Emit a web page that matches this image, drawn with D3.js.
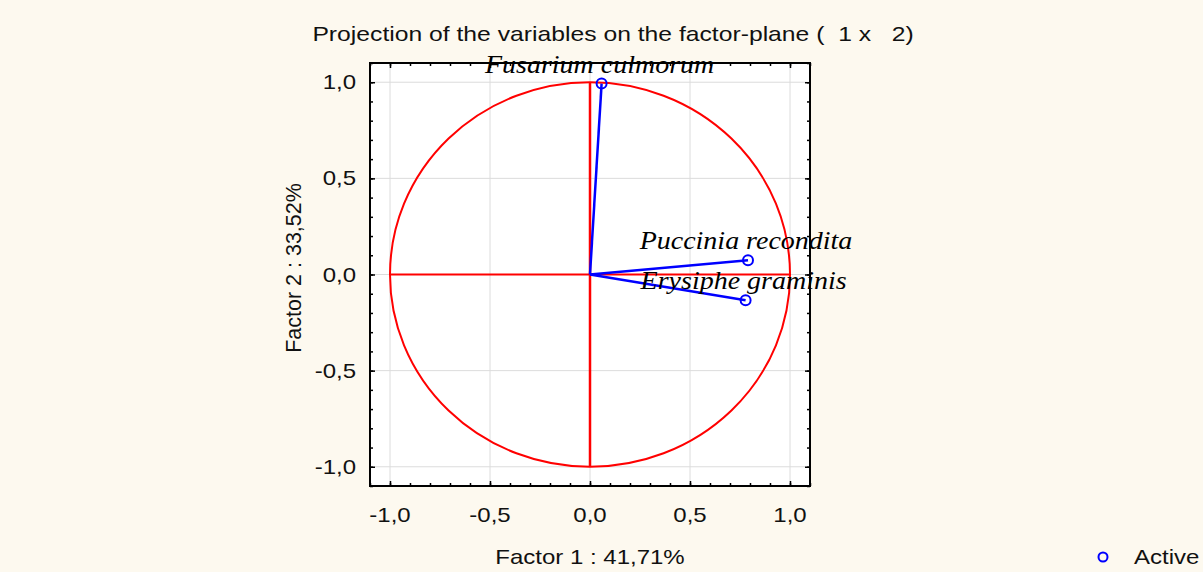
<!DOCTYPE html>
<html>
<head>
<meta charset="utf-8">
<script src="https://d3js.org/d3.v7.min.js"></script>
<style>
  body { margin: 0; padding: 0; background: #fdf9ef; }
  svg { display: block; }
  text { white-space: pre; }
</style>
</head>
<body>
<div id="chart"></div>
<script>
// variables projected on the factor plane
var variables = ["Fusarium culmorum", "Puccinia recondita", "Erysiphe graminis"];
var factor1 = [0.058, 0.79, 0.778];
var factor2 = [0.993, 0.074, -0.134];

var tickValues = [-1.0, -0.5, 0.0, 0.5, 1.0];
var minorTicks = d3.range(-11, 12).map(function(d) { return d / 10; });

var titleText = "Projection of the variables on the factor-plane (  1 x   2)";
var xTitle = "Factor 1 : 41,71%";
var yTitle = "Factor 2 : 33,52%";
var legendLabel = "Active";

var W = 1203, H = 572;
var stretch = 1.2;   // text in the picture is a bit wide

var locale = d3.formatLocale({decimal: ",", thousands: ".", grouping: [3], currency: ["", ""], minus: "-"});
var fmt = locale.format(".1f");

var svg = d3.select("#chart").append("svg")
    .attr("width", W)
    .attr("height", H);

svg.append("rect").attr("width", W).attr("height", H).attr("fill", "#fdf9ef");

var x = d3.scaleLinear().domain([-1.1, 1.1]).range([370, 810]);
var y = d3.scaleLinear().domain([-1.1, 1.1]).range([486, 63]);

function addText(g, tx, ty, str, opts) {
    var t = g.append("text")
        .attr("transform", "translate(" + tx + "," + ty + ")" + (opts.rotate ? " rotate(" + opts.rotate + ")" : "") + " scale(" + (opts.sx || stretch) + ",1)")
        .attr("text-anchor", opts.anchor || "start")
        .attr("font-family", opts.family || "'Liberation Sans', Arial, sans-serif")
        .attr("font-size", opts.size || 20)
        .attr("fill", "#111")
        .attr("xml:space", "preserve")
        .text(str);
    if (opts.italic) t.attr("font-style", "italic");
    if (opts.dy) t.attr("dy", opts.dy);
    return t;
}

// title
addText(svg, 613, 41, titleText, {anchor: "middle", size: 20, sx: 1.235});

// plot background
svg.append("rect")
    .attr("x", x(-1.1)).attr("y", y(1.1))
    .attr("width", x(1.1) - x(-1.1)).attr("height", y(-1.1) - y(1.1))
    .attr("fill", "#ffffff");

// grid
var grid = svg.append("g").attr("stroke", "#dcdcdc").attr("stroke-width", 1);
grid.selectAll(".gx").data(tickValues).enter().append("line")
    .attr("x1", function(d) { return x(d); }).attr("x2", function(d) { return x(d); })
    .attr("y1", y(1.1)).attr("y2", y(-1.1));
grid.selectAll(".gy").data(tickValues).enter().append("line")
    .attr("y1", function(d) { return y(d); }).attr("y2", function(d) { return y(d); })
    .attr("x1", x(-1.1)).attr("x2", x(1.1));

// inside ticks on all four sides
function drawAxis(axis, transform, values, size) {
    var g = svg.append("g")
        .attr("transform", transform)
        .call(axis.tickValues(values).tickSize(-size).tickFormat(""));
    g.select(".domain").remove();
    g.selectAll("line").attr("stroke", "#000").attr("stroke-width", 1.5);
}
drawAxis(d3.axisBottom(x), "translate(0," + y(-1.1) + ")", minorTicks, 3);
drawAxis(d3.axisBottom(x), "translate(0," + y(-1.1) + ")", tickValues, 5);
drawAxis(d3.axisTop(x), "translate(0," + y(1.1) + ")", minorTicks, 3);
drawAxis(d3.axisTop(x), "translate(0," + y(1.1) + ")", tickValues, 5);
drawAxis(d3.axisLeft(y), "translate(" + x(-1.1) + ",0)", minorTicks, 3);
drawAxis(d3.axisLeft(y), "translate(" + x(-1.1) + ",0)", tickValues, 5);
drawAxis(d3.axisRight(y), "translate(" + x(1.1) + ",0)", minorTicks, 3);
drawAxis(d3.axisRight(y), "translate(" + x(1.1) + ",0)", tickValues, 5);

// frame
svg.append("rect")
    .attr("x", x(-1.1)).attr("y", y(1.1))
    .attr("width", x(1.1) - x(-1.1)).attr("height", y(-1.1) - y(1.1))
    .attr("fill", "none").attr("stroke", "#000").attr("stroke-width", 2);

// tick labels
tickValues.forEach(function(v) {
    addText(svg, x(v), 522, fmt(v), {anchor: "middle"});
    addText(svg, 356, y(v), fmt(v), {anchor: "end", dy: "0.35em"});
});

// unit circle and axes cross
svg.append("ellipse")
    .attr("cx", x(0)).attr("cy", y(0))
    .attr("rx", x(1) - x(0)).attr("ry", y(0) - y(1))
    .attr("fill", "none").attr("stroke", "#ff0000").attr("stroke-width", 2);
svg.append("line")
    .attr("x1", x(-1)).attr("x2", x(1)).attr("y1", y(0)).attr("y2", y(0))
    .attr("stroke", "#ff0000").attr("stroke-width", 2);
svg.append("line")
    .attr("x1", x(0)).attr("x2", x(0)).attr("y1", y(-1)).attr("y2", y(1))
    .attr("stroke", "#ff0000").attr("stroke-width", 2.5);

// vectors
var pts = variables.map(function(name, i) { return {name: name, f1: factor1[i], f2: factor2[i]}; });

svg.selectAll(".vec").data(pts).enter().append("line")
    .attr("x1", x(0)).attr("y1", y(0))
    .attr("x2", function(d) { return x(d.f1); })
    .attr("y2", function(d) { return y(d.f2); })
    .attr("stroke", "#0000ff").attr("stroke-width", 2.5);

svg.selectAll(".pt").data(pts).enter().append("circle")
    .attr("cx", function(d) { return x(d.f1); })
    .attr("cy", function(d) { return y(d.f2); })
    .attr("r", 5)
    .attr("fill", "none").attr("stroke", "#0000ff").attr("stroke-width", 2);

pts.forEach(function(d) {
    addText(svg, x(d.f1) - 2, y(d.f2) - 11, d.name,
        {anchor: "middle", size: 25, italic: true, sx: 1.12, family: "'Liberation Serif', 'Times New Roman', serif"})
        .attr("fill", "#000");
});

// axis titles
addText(svg, 590, 564, xTitle, {anchor: "middle"});
addText(svg, 301, 268, yTitle, {anchor: "middle", size: 21.5, rotate: -90, sx: 1});

// legend
svg.append("circle")
    .attr("cx", 1103).attr("cy", 557).attr("r", 4.5)
    .attr("fill", "none").attr("stroke", "#0000ff").attr("stroke-width", 2);
addText(svg, 1134, 564, legendLabel, {});
</script>
</body>
</html>
